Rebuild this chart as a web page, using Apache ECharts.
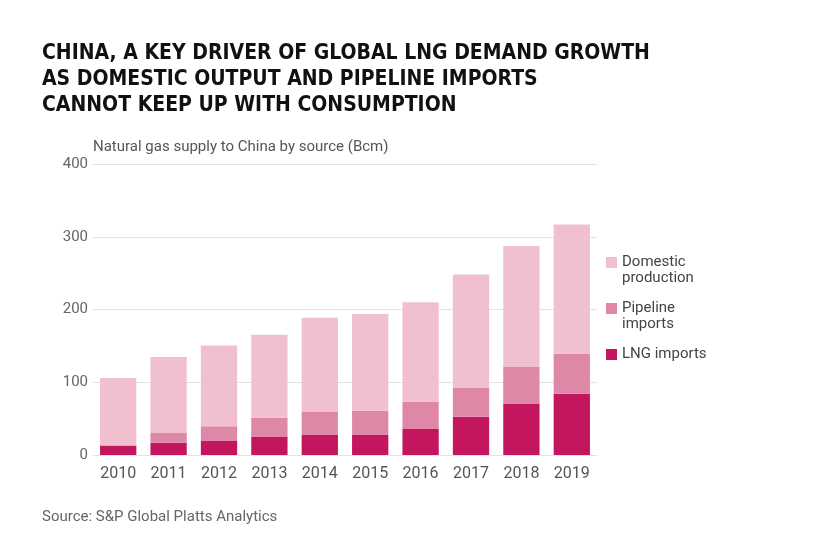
<!DOCTYPE html>
<html>
<head>
<meta charset="utf-8">
<script src="https://cdn.jsdelivr.net/npm/echarts@6/dist/echarts.min.js"></script>
<style>
html,body{margin:0;padding:0;background:#fff;}
#c{width:828px;height:556px;}
</style>
</head>
<body>
<div id="c"></div>
<script>
var years = ['2010','2011','2012','2013','2014','2015','2016','2017','2018','2019'];
var lngImports = [13, 17, 20, 25.6, 27.5, 27.5, 35.7, 52.6, 70.9, 84.2];
var pipelineImports = [0, 14, 19.4, 25.7, 31.5, 33.4, 37.5, 40.3, 50.8, 54.9];
var domesticProduction = [93, 103.6, 111, 114, 129.6, 133, 136.8, 155.1, 165.7, 177.6];
var yTicks = [0, 100, 200, 300, 400];
var seriesNames = ['LNG imports', 'Pipeline imports', 'Domestic production'];
var legendLabels = ['LNG imports', 'Pipeline\nimports', 'Domestic\nproduction'];
var seriesColors = ['#c4155f', '#de87a6', '#f0c0cf'];

var chart = echarts.init(document.getElementById('c'));

// legend built as graphics so the swatch aligns with the first text line
var legendOrder = [2, 1, 0];
var legendGraphics = [];
legendOrder.forEach(function (si, k) {
  var y0 = 257 + k * 46;
  legendGraphics.push({
    type: 'rect',
    left: 606,
    top: y0,
    shape: { width: 11, height: 11 },
    style: { fill: seriesColors[si] }
  });
  legendGraphics.push({
    type: 'text',
    left: 622,
    top: y0 - 3,
    style: {
      text: legendLabels[si],
      fontFamily: 'Roboto',
      fontSize: 15,
      lineHeight: 16,
      fill: '#444444'
    }
  });
});

var option = {
  backgroundColor: '#ffffff',
  animation: false,
  title: {
    text: 'CHINA, A KEY DRIVER OF GLOBAL LNG DEMAND GROWTH\nAS DOMESTIC OUTPUT AND PIPELINE IMPORTS\nCANNOT KEEP UP WITH CONSUMPTION',
    left: 37,
    top: 36,
    textStyle: {
      fontFamily: 'DejaVu Sans Condensed',
      fontWeight: 'bold',
      fontSize: 21,
      lineHeight: 26,
      color: '#111111'
    }
  },
  grid: {
    left: 93,
    right: 231,
    top: 164,
    bottom: 101,
    containLabel: false
  },
  xAxis: {
    type: 'category',
    data: years,
    axisLine: { show: false },
    axisTick: { show: false },
    axisLabel: {
      margin: 11,
      fontFamily: 'Roboto',
      fontSize: 16,
      color: '#555555'
    }
  },
  yAxis: {
    type: 'value',
    min: yTicks[0],
    max: yTicks[yTicks.length - 1],
    interval: 100,
    name: 'Natural gas supply to China by source (Bcm)',
    nameLocation: 'end',
    nameGap: 9,
    nameTextStyle: {
      align: 'left',
      fontFamily: 'Roboto',
      fontSize: 15,
      color: '#555555'
    },
    axisLine: { show: false },
    axisTick: { show: false },
    splitLine: { lineStyle: { color: '#e2e2e2', width: 1 } },
    axisLabel: {
      margin: 5,
      fontFamily: 'Roboto',
      fontSize: 15,
      color: '#666666',
      padding: [12, 0, 0, 0]
    }
  },
  series: [
    {
      name: seriesNames[0],
      type: 'bar',
      stack: 'total',
      barWidth: '72%',
      data: lngImports,
      itemStyle: { color: seriesColors[0] }
    },
    {
      name: seriesNames[1],
      type: 'bar',
      stack: 'total',
      data: pipelineImports,
      itemStyle: { color: seriesColors[1] }
    },
    {
      name: seriesNames[2],
      type: 'bar',
      stack: 'total',
      data: domesticProduction,
      itemStyle: { color: seriesColors[2] }
    }
  ],
  graphic: legendGraphics.concat([
    {
      type: 'text',
      left: 42,
      top: 510,
      style: {
        text: 'Source: S&P Global Platts Analytics',
        fontFamily: 'Roboto',
        fontSize: 15,
        fill: '#666666'
      }
    }
  ])
};
chart.setOption(option);
</script>
</body>
</html>
